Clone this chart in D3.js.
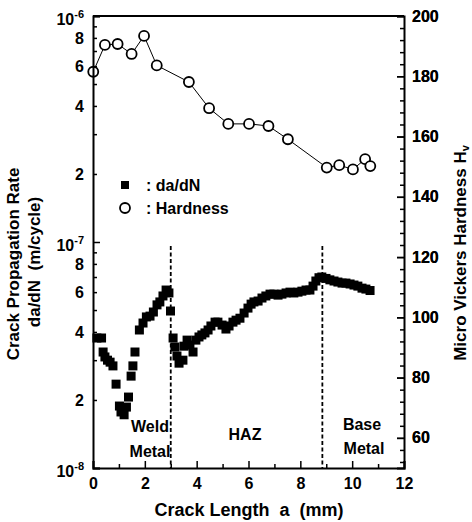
<!DOCTYPE html>
<html>
<head>
<meta charset="utf-8">
<script src="https://cdn.jsdelivr.net/npm/d3@7"></script>
<style>
  body { margin: 0; background: #fff; }
  svg text { font-family: "Liberation Sans", Arial, sans-serif; font-weight: bold; fill: #000; }
</style>
</head>
<body>
<script>
// crack growth rate (filled squares)
let crackLen = [0.15, 0.33, 0.39, 0.46, 0.56, 0.66, 0.77, 0.89, 1.02, 1.08, 1.2, 1.29, 1.37, 1.47, 1.54, 1.62,
  1.79, 1.93, 2.06, 2.2, 2.33, 2.47, 2.58, 2.7, 2.82, 2.93, 2.99,
  3.09, 3.16, 3.24, 3.32, 3.47, 3.51, 3.63, 3.74, 3.86, 3.97, 4.09, 4.2, 4.32, 4.44, 4.55, 4.71, 4.82, 4.98,
  5.13, 5.25, 5.4, 5.52, 5.67, 5.83, 5.98, 6.1, 6.21, 6.37, 6.52, 6.67, 6.83, 6.98, 7.14, 7.29, 7.45, 7.6,
  7.75, 7.91, 8.06, 8.22, 8.37, 8.49, 8.6, 8.72, 8.83,
  8.99, 9.14, 9.3, 9.45, 9.61, 9.76, 9.92, 10.07, 10.22, 10.38, 10.53, 10.69]
let dadN = [3.76, 3.76, 3.26, 3.1, 3.0, 2.94, 2.83, 2.35, 1.88, 1.77, 1.72, 1.86, 2.06, 2.55, 2.83, 3.26,
  4.08, 4.38, 4.66, 4.7, 4.9, 5.27, 5.43, 5.77, 6.13, 5.95, 4.95,
  3.76, 3.43, 3.13, 2.91, 3.0, 3.46, 3.68, 3.5, 3.26, 3.68, 3.8, 3.88, 3.96, 4.08, 4.25, 4.42, 4.42, 4.29,
  4.12, 4.25, 4.42, 4.51, 4.6, 4.85, 5.1, 5.31, 5.43, 5.48, 5.65, 5.77, 5.88, 5.88, 5.82, 5.88, 5.95, 6.0,
  5.95, 6.0, 6.06, 6.13, 6.13, 6.38, 6.72, 6.95, 7.0,
  6.9, 6.8, 6.72, 6.65, 6.58, 6.58, 6.52, 6.45, 6.38, 6.25, 6.19, 6.1].map(v => v * 1e-8)

// hardness (open circles)
let hvPos = [0.01, 0.46, 0.95, 1.49, 1.97, 2.46, 3.7, 4.48, 5.22, 6.02, 6.77, 7.52, 9.02, 9.5, 10.03, 10.5, 10.7]
let hvVal = [181.5, 190.4, 190.7, 187.4, 193.4, 183.6, 178.1, 169.4, 164.2, 164.2, 163.5, 159.1, 149.7, 150.5, 149.1, 152.5, 150.2]

let zoneLines = [3.0, 8.85]
let xTicks = [0, 2, 4, 6, 8, 10, 12]
let hvTicks = [60, 80, 100, 120, 140, 160, 180, 200]
let logLabels = [2, 4, 6, 8]

;(() => {
  let W = 472, H = 522
  let margin = {top: 16, right: 68, bottom: 54, left: 93}
  let svg = d3.select("body").append("svg")
    .attr("width", W)
    .attr("height", H)

  let x = d3.scaleLinear().domain([0, 12]).range([margin.left, W - margin.right])
  let y = d3.scaleLog().domain([1e-8, 1e-6]).range([H - margin.bottom, margin.top])
  let yh = d3.scaleLinear().domain([50, 200]).range([H - margin.bottom, margin.top])

  let plot = svg.append("g")

  // dashed zone separators
  plot.selectAll(".zone")
    .data(zoneLines)
    .enter().append("line")
    .attr("x1", d => x(d)).attr("x2", d => x(d))
    .attr("y1", 246).attr("y2", y(1e-8))
    .attr("stroke", "#000")
    .attr("stroke-width", 1.8)
    .attr("stroke-dasharray", "4,2.5")

  // da/dN squares
  let sq = 9
  plot.selectAll(".rate")
    .data(crackLen)
    .enter().append("rect")
    .attr("x", d => x(d) - sq / 2)
    .attr("y", (d, i) => y(dadN[i]) - sq / 2)
    .attr("width", sq)
    .attr("height", sq)
    .attr("fill", "#000")

  // hardness line + circles
  let hvLine = d3.line().x((d, i) => x(d)).y((d, i) => yh(hvVal[i]))
  plot.append("path")
    .attr("d", hvLine(hvPos))
    .attr("fill", "none")
    .attr("stroke", "#000")
    .attr("stroke-width", 1)
  plot.selectAll(".hv")
    .data(hvPos)
    .enter().append("circle")
    .attr("cx", d => x(d))
    .attr("cy", (d, i) => yh(hvVal[i]))
    .attr("r", 5)
    .attr("fill", "#fff")
    .attr("stroke", "#000")
    .attr("stroke-width", 1.8)

  // axes
  let fs = "16px"
  let bottom = svg.append("g")
    .attr("transform", "translate(0," + y(1e-8) + ")")
    .call(d3.axisBottom(x).tickValues(d3.range(0, 13, 1)).tickSize(-7).tickPadding(10)
      .tickFormat(d => xTicks.includes(d) ? d : ""))
  bottom.selectAll(".tick line").attr("y2", d => d % 2 ? -4 : -7)

  let left = svg.append("g")
    .attr("transform", "translate(" + x(0) + ",0)")
    .call(d3.axisLeft(y).tickValues([1e-8, 2e-8, 3e-8, 4e-8, 5e-8, 6e-8, 7e-8, 8e-8, 9e-8, 1e-7,
      2e-7, 3e-7, 4e-7, 5e-7, 6e-7, 7e-7, 8e-7, 9e-7, 1e-6]).tickSize(-7).tickPadding(8).tickFormat(""))
  left.selectAll(".tick line").attr("x2", d => {
    let m = Math.round(d / Math.pow(10, Math.floor(Math.log10(d) + 1e-9)))
    return m === 1 ? 7 : 4
  })
  left.selectAll(".tick").each(function(d) {
    let e = Math.floor(Math.log10(d) + 1e-9)
    let m = Math.round(d / Math.pow(10, e))
    let t = d3.select(this).append("text")
      .attr("x", -9).attr("dy", "0.35em")
      .attr("text-anchor", "end")
      .style("font-size", fs)
    if (m === 1) {
      t.attr("dy", "0.5em")
      t.append("tspan").text("10")
      t.append("tspan").text(e).attr("dy", "-0.55em").style("font-size", "11px")
    } else if (logLabels.includes(m)) {
      t.text(m)
    }
  })

  let right = svg.append("g")
    .attr("transform", "translate(" + x(12) + ",0)")
    .call(d3.axisRight(yh).tickValues(d3.range(52, 201, 4).concat(hvTicks)).tickSize(-7).tickPadding(8)
      .tickFormat(d => hvTicks.includes(d) ? d : ""))
  right.selectAll(".tick line").attr("x2", d => hvTicks.includes(d) ? -7 : -4)

  svg.selectAll(".domain").attr("stroke", "#000").attr("stroke-width", 2)
  svg.selectAll(".tick line").attr("stroke", "#000").attr("stroke-width", 1.5)
  svg.selectAll(".tick text").style("font-size", fs).attr("fill", "#000")
    .style("font-family", "'Liberation Sans', Arial, sans-serif").style("font-weight", "bold")

  // top frame
  svg.append("line")
    .attr("x1", x(0)).attr("x2", x(12))
    .attr("y1", y(1e-6)).attr("y2", y(1e-6))
    .attr("stroke", "#000").attr("stroke-width", 2)

  // axis titles
  svg.append("text")
    .attr("x", 249)
    .attr("y", 516)
    .style("font-size", "18px")
    .style("text-anchor", "middle")
    .style("white-space", "pre")
    .text("Crack Length  a  (mm)")

  svg.append("text")
    .attr("transform", "translate(19,264) rotate(-90)")
    .style("font-size", "17px")
    .style("text-anchor", "middle")
    .text("Crack Propagation Rate")
  svg.append("text")
    .attr("transform", "translate(40,262) rotate(-90)")
    .style("font-size", "17px")
    .style("text-anchor", "middle")
    .style("white-space", "pre")
    .text("da/dN  (m/cycle)")

  let rt = svg.append("text")
    .attr("transform", "translate(466,253) rotate(-90)")
    .style("font-size", "17px")
    .style("text-anchor", "middle")
  rt.append("tspan").text("Micro Vickers Hardness  H")
  rt.append("tspan").text("v").attr("dy", "0.3em").style("font-size", "11px")

  // legend
  svg.append("rect")
    .attr("x", 121).attr("y", 181).attr("width", 8).attr("height", 8)
    .attr("fill", "#000")
  svg.append("text").attr("x", 146).attr("y", 191).style("font-size", "16px").text(": da/dN")
  svg.append("circle")
    .attr("cx", 125).attr("cy", 208).attr("r", 5)
    .attr("fill", "#fff").attr("stroke", "#000").attr("stroke-width", 1.8)
  svg.append("text").attr("x", 146).attr("y", 214).style("font-size", "16px").text(": Hardness")

  // zone labels
  let zones = [
    {t: "Weld", x: 150, y: 432}, {t: "Metal", x: 150, y: 457},
    {t: "HAZ", x: 245, y: 440},
    {t: "Base", x: 362, y: 430}, {t: "Metal", x: 364, y: 454}
  ]
  svg.selectAll(".zlab")
    .data(zones)
    .enter().append("text")
    .attr("x", d => d.x).attr("y", d => d.y)
    .style("font-size", "16px")
    .style("text-anchor", "middle")
    .text(d => d.t)
})()
</script>
</body>
</html>
